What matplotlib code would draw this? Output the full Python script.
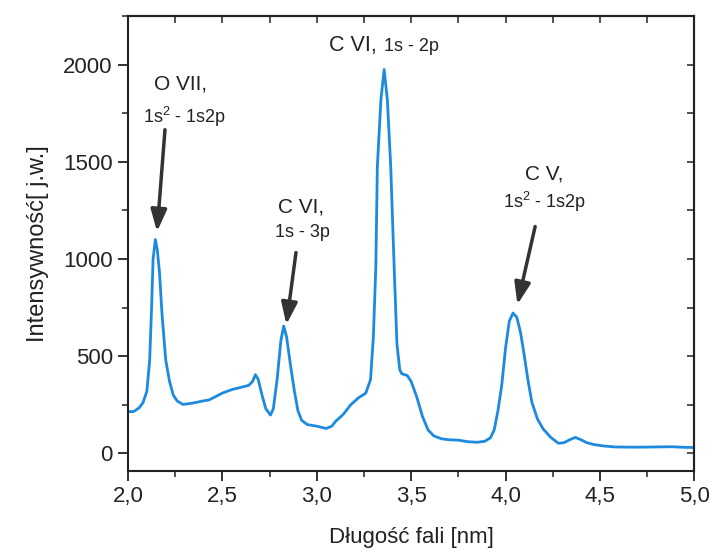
import matplotlib
matplotlib.use("Agg")
import matplotlib.pyplot as plt
from matplotlib.ticker import MultipleLocator

plt.rcParams['font.family'] = ['Liberation Sans', 'DejaVu Sans']
plt.rcParams['mathtext.fontset'] = 'custom'
plt.rcParams['mathtext.rm'] = 'Liberation Sans'
plt.rcParams['mathtext.it'] = 'Liberation Sans'

wavelength = [2.00, 2.03, 2.06, 2.08, 2.10, 2.115, 2.125, 2.133, 2.145, 2.155, 2.167, 2.18,
              2.20, 2.22, 2.24, 2.26, 2.29, 2.32, 2.36, 2.40, 2.43, 2.46, 2.50, 2.55, 2.60,
              2.64, 2.66, 2.675, 2.69, 2.71, 2.73, 2.755, 2.77, 2.79, 2.81, 2.825, 2.84,
              2.86, 2.88, 2.90, 2.92, 2.95, 3.00, 3.05, 3.08, 3.10, 3.14, 3.18, 3.22, 3.26,
              3.285, 3.30, 3.313, 3.321, 3.34, 3.357, 3.374, 3.392, 3.41, 3.425, 3.44, 3.45,
              3.48, 3.50, 3.53, 3.56, 3.59, 3.62, 3.66, 3.70, 3.75, 3.80, 3.85, 3.89, 3.92,
              3.94, 3.96, 3.98, 4.00, 4.02, 4.04, 4.06, 4.08, 4.10, 4.12, 4.14, 4.17, 4.20,
              4.24, 4.28, 4.31, 4.34, 4.37, 4.40, 4.43, 4.47, 4.52, 4.58, 4.65, 4.72, 4.80,
              4.88, 4.95, 5.00]
intensity = [215, 215, 235, 262, 320, 480, 750, 1000, 1100, 1050, 930, 720,
             480, 370, 300, 270, 252, 255, 262, 270, 275, 290, 310, 328, 340,
             350, 370, 405, 380, 300, 230, 197, 230, 380, 580, 655, 600,
             460, 330, 220, 170, 148, 140, 128, 140, 165, 200, 250, 285, 310,
             380, 600, 960, 1475, 1820, 1975, 1820, 1475, 960, 560, 430, 410,
             400, 370, 290, 190, 120, 90, 75, 70, 68, 60, 57, 62, 80,
             120, 220, 350, 540, 680, 722, 700, 620, 500, 370, 262, 175, 125,
             82, 52, 55, 70, 82, 70, 55, 45, 38, 33, 32, 32, 33,
             34, 31, 30]

x_ticks = [2.0, 2.5, 3.0, 3.5, 4.0, 4.5, 5.0]
x_tick_labels = ["2,0", "2,5", "3,0", "3,5", "4,0", "4,5", "5,0"]
y_ticks = [0, 500, 1000, 1500, 2000]

# annotations: (text lines, positions), arrows (start, tip)
ann_main = ["O VII,", "C VI,", "C V,"]
ann_main_pos = [(2.276, 1871), (2.917, 1239), (4.205, 1408)]
ann_sub = ["1s$^2$ - 1s2p", "1s - 3p", "1s$^2$ - 1s2p"]
ann_sub_pos = [(2.297, 1701), (2.925, 1115), (4.207, 1264)]
arrow_start = [(2.196, 1665), (2.890, 1033), (4.157, 1167)]
arrow_tip = [(2.154, 1141), (2.839, 663), (4.063, 766)]

top_main = "C VI,"
top_sub = "1s - 2p"

fig = plt.figure(figsize=(7.15, 5.52), dpi=100)
ax = fig.add_axes([0.179, 0.147, 0.792, 0.824])

ax.plot(wavelength, intensity, color='#1c8ade', lw=2.0)

ax.set_xlim(2.0, 5.0)
ax.set_ylim(-90, 2250)
ax.set_xticks(x_ticks)
ax.set_xticklabels(x_tick_labels)
ax.set_yticks(y_ticks)
ax.xaxis.set_minor_locator(MultipleLocator(0.25))
ax.yaxis.set_minor_locator(MultipleLocator(250))
ax.tick_params(which='major', direction='out', length=7, width=1.3, labelsize=16,
               colors='#222222', pad=4)
ax.tick_params(which='minor', direction='out', length=4, width=1.1, colors='#222222')
for s in ax.spines.values():
    s.set_linewidth(1.5)
    s.set_color('#222222')

sx = ax.secondary_xaxis('top')
sx.set_xticks([2.25 + 0.25 * i for i in range(11)])
sx.tick_params(direction='in', length=5, width=1.1, labeltop=False, colors='#222222')
sy = ax.secondary_yaxis('right')
sy.set_yticks([250 * i for i in range(9)])
sy.tick_params(direction='in', length=5, width=1.1, labelright=False, colors='#222222')
for sec in (sx, sy):
    for s in sec.spines.values():
        s.set_linewidth(1.5)
        s.set_color('#222222')

ax.set_xlabel("Długość fali [nm]", fontsize=16, color='#222222', labelpad=14)
ax.set_ylabel("Intensywność[ j.w.]", fontsize=17, color='#222222', labelpad=10)

for t, p in zip(ann_main, ann_main_pos):
    ax.text(p[0], p[1], t, ha='center', va='baseline', fontsize=15, color='#222222')
for t, p in zip(ann_sub, ann_sub_pos):
    ax.text(p[0], p[1], t, ha='center', va='baseline', fontsize=13, color='#222222')
for s, e in zip(arrow_start, arrow_tip):
    ax.annotate('', xy=e, xytext=s,
                arrowprops=dict(arrowstyle='-|>,head_length=0.6,head_width=0.22',
                                color='#333333', lw=2.5,
                                mutation_scale=22, shrinkA=0, shrinkB=0))

ax.text(3.316, 2071, top_main, ha='right', va='baseline', fontsize=15.5, color='#222222')
ax.text(3.355, 2071, top_sub, ha='left', va='baseline', fontsize=13, color='#222222')

fig.savefig("out.png", dpi=100)
